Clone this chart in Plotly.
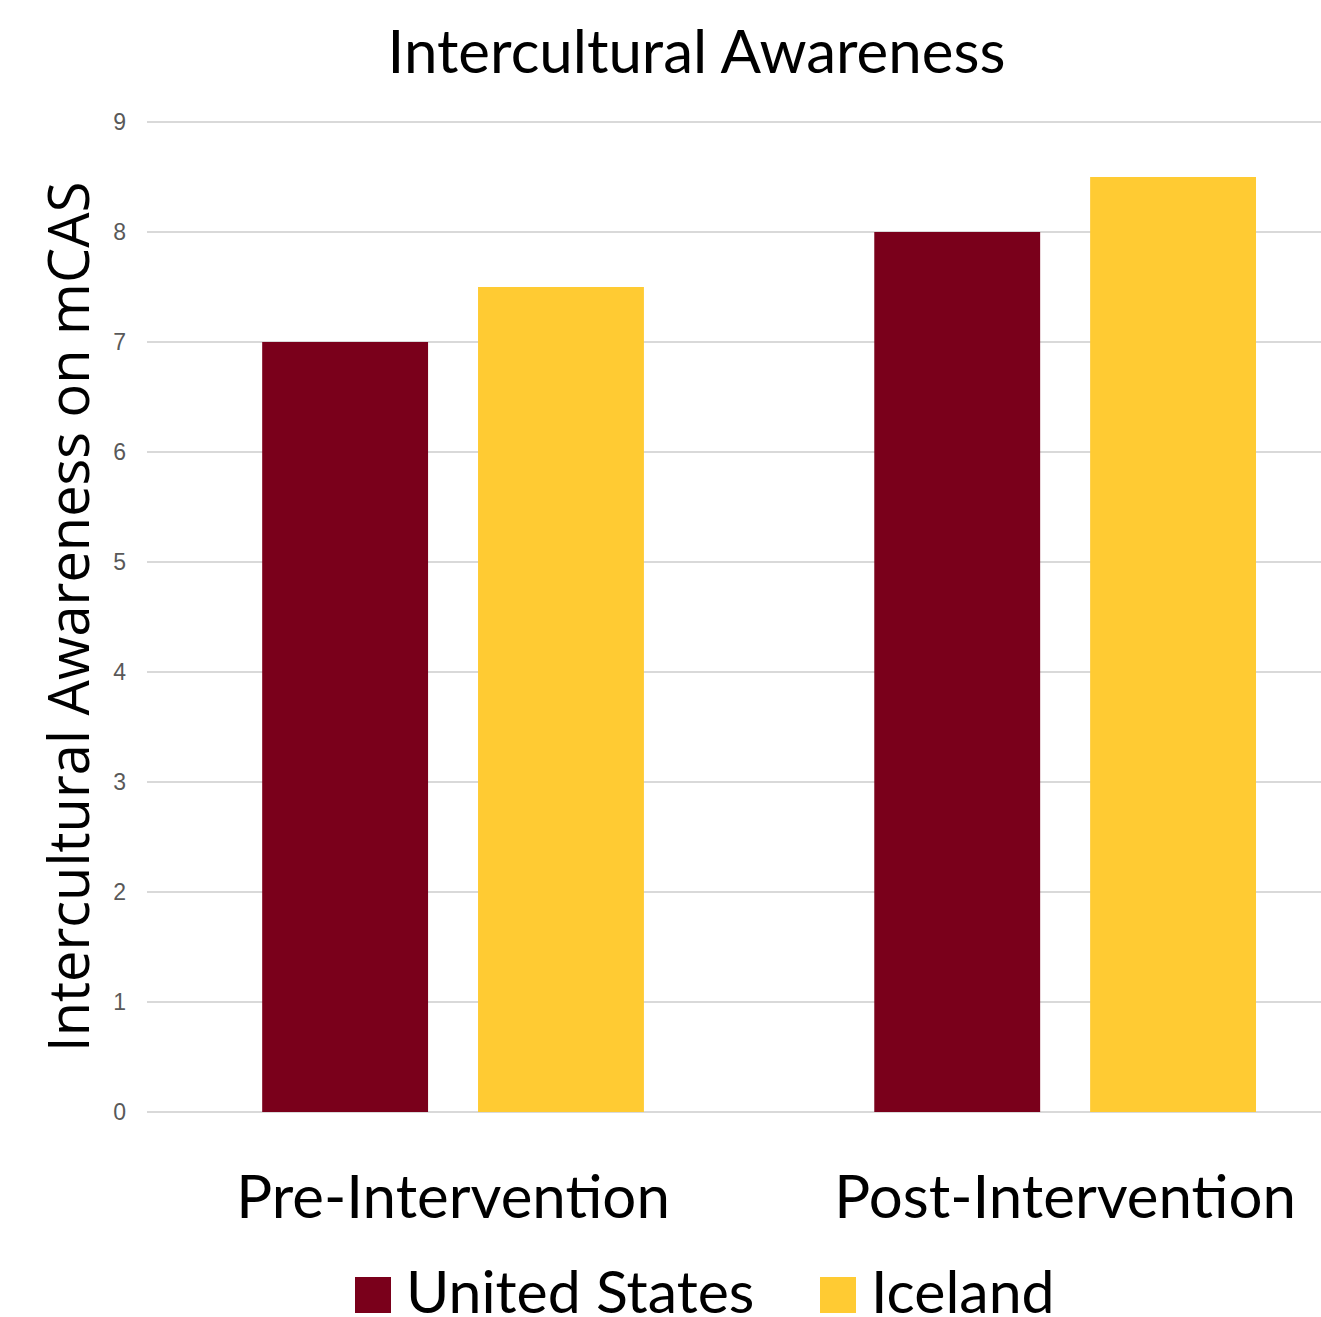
import plotly.graph_objects as go

# Chart data
phases = ["Pre-Intervention", "Post-Intervention"]
countries = ["United States", "Iceland"]
scores = {
    "United States": [7.0, 8.0],
    "Iceland": [7.5, 8.5],
}
colors = {"United States": "#7A001B", "Iceland": "#FFCB33"}
y_ticks = [0, 1, 2, 3, 4, 5, 6, 7, 8, 9]

W, H = 1321, 1317
M_L, M_R, M_T, M_B = 147, 0, 121, 204
PW, PH = W - M_L - M_R, H - M_T - M_B

LABEL_FONT = "Lato, Carlito, Calibri, sans-serif"

fig = go.Figure()
for c in countries:
    fig.add_trace(go.Bar(
        x=phases, y=scores[c], name=c,
        marker=dict(color=colors[c], line=dict(width=0)),
        showlegend=False,
    ))

fig.update_layout(
    width=W, height=H,
    margin=dict(l=M_L, r=M_R, t=M_T, b=M_B, pad=0),
    paper_bgcolor="white", plot_bgcolor="white",
    barmode="group", bargap=0.2947, bargroupgap=0.2315,
    title=dict(
        text="Intercultural Awareness",
        x=696.5 / W, xanchor="center", xref="container",
        y=1 - 52 / H, yanchor="middle", yref="container",
        font=dict(family=LABEL_FONT, size=60, color="black"),
    ),
    xaxis=dict(
        range=[-0.5, 1.418],
        showgrid=False, zeroline=False, showline=False,
        ticks="", ticklabelstandoff=44,
        tickfont=dict(family=LABEL_FONT, size=60, color="black"),
    ),
    yaxis=dict(
        range=[-0.01, 9.01], tickvals=y_ticks,
        showgrid=True, gridcolor="#D9D9D9", gridwidth=2,
        zeroline=False, showline=False,
        ticks="", ticklabelstandoff=20,
        tickfont=dict(family="Liberation Sans, Arial, sans-serif", size=23, color="#595959"),
    ),
    font=dict(family=LABEL_FONT),
)

# Vertical axis title
fig.add_annotation(
    text="Intercultural Awareness on mCAS",
    xref="paper", yref="paper", x=0, y=0.5,
    xshift=-80, textangle=-90, showarrow=False,
    xanchor="center", yanchor="middle",
    font=dict(family="Open Sans, sans-serif", size=56, color="black"),
)

# Legend: large swatches with labels below the chart
legend_x = {"United States": (355, 404), "Iceland": (820, 869)}
for c in countries:
    sx, tx = legend_x[c]
    fig.add_shape(
        type="rect", xref="paper", yref="paper",
        x0=(sx - M_L) / PW, x1=(sx + 36 - M_L) / PW,
        y0=(H - M_B - 1313) / PH, y1=(H - M_B - 1277) / PH,
        fillcolor=colors[c], line=dict(width=0),
    )
    fig.add_annotation(
        text=c, xref="paper", yref="paper", showarrow=False,
        x=(tx - M_L) / PW, y=(H - M_B - 1290) / PH,
        xanchor="left", yanchor="middle",
        font=dict(family=LABEL_FONT, size=59, color="black"),
    )

fig.write_html("out.html")
